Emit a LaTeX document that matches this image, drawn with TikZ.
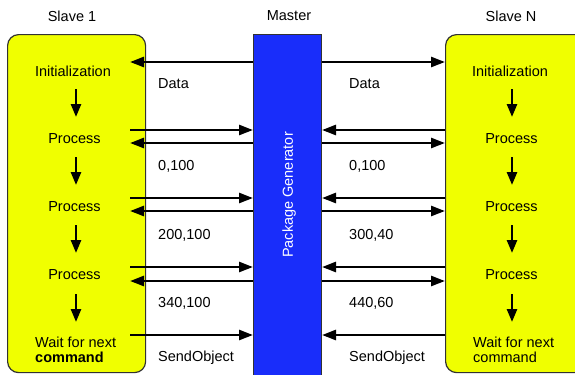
\documentclass[tikz,border=0pt]{standalone}
\usepackage{fontspec}
\setmainfont{Liberation Sans}
\usetikzlibrary{arrows.meta}
\definecolor{slaveyellow}{RGB}{240,255,0}
\definecolor{masterblue}{RGB}{25,45,250}
\definecolor{edgegray}{RGB}{50,50,50}
\tikzset{
  slavebox/.style={draw=edgegray, line width=1.2bp, fill=slaveyellow, rounded corners=11bp,
    anchor=north west, inner sep=0pt},
  masterbox/.style={draw=edgegray, line width=1bp, fill=masterblue, anchor=north west, inner sep=0pt},
  msg/.style={line width=2.6bp, -{Triangle[length=14bp,width=10bp]}},
  flow/.style={line width=2.6bp, -{Triangle[length=13bp,width=10bp]}},
  lbl/.style={anchor=west, inner sep=0pt},
  stepname/.style={inner sep=0pt},
  head/.style={inner sep=0pt}
}
\begin{document}
\begin{tikzpicture}[x=1bp, y=-1bp, font=\fontsize{14.5bp}{15bp}\selectfont]
\useasboundingbox (0,0) rectangle (575,374);
\clip (0,0) rectangle (575,374);

% headers
\node[head] (h1) at (72,16) {Slave 1};
\node[head] (hm) at (289,16) {Master};
\node[head] (hn) at (511,16) {Slave N};

% the three columns
\node[slavebox, minimum width=138bp, minimum height=338bp] (slave1) at (7,34) {};
\node[slavebox, minimum width=160bp, minimum height=338bp] (slaveN) at (445,34) {};
\node[masterbox, minimum width=68bp, minimum height=360bp] (master) at (253,34) {};
\node[text=white, rotate=90, inner sep=0pt] (pg) at (289,195) {Package Generator};

% slave 1 steps
\node[stepname] (a0) at (73,71) {Initialization};
\node[stepname] (a1) at (74.5,139) {Process};
\node[stepname] (a2) at (74.5,207) {Process};
\node[stepname] (a3) at (74.5,275) {Process};
\node[lbl, align=left] (a4) at (35,350) {Wait for next\\\textbf{command}};

% slave N steps
\node[stepname] (b0) at (510,71) {Initialization};
\node[stepname] (b1) at (511.5,139) {Process};
\node[stepname] (b2) at (511.5,207) {Process};
\node[stepname] (b3) at (511.5,275) {Process};
\node[lbl, align=left] (b4) at (473,350) {Wait for next\\command};

% step flow arrows
\coordinate (colA) at (76,0);
\coordinate (colB) at (512,0);
\foreach \p/\q in {a0/a1,a1/a2,a2/a3}
  \draw[flow, shorten <=18bp, shorten >=22bp] (\p -| colA) -- (\q -| colA);
\draw[flow] (76,294) -- (76,322);
\foreach \p/\q in {b0/b1,b1/b2,b2/b3}
  \draw[flow, shorten <=18bp, shorten >=22bp] (\p -| colB) -- (\q -| colB);
\draw[flow] (512,294) -- (512,322);

% message rows
\coordinate (inA) at (130,0);
\coordinate (d0) at (0,62);
\coordinate (u1) at (0,130); \coordinate (v1) at (0,143);
\coordinate (u2) at (0,198); \coordinate (v2) at (0,211);
\coordinate (u3) at (0,267); \coordinate (v3) at (0,281);
\coordinate (u4) at (0,335);

% data broadcast
\draw[msg] (master.west |- d0) -- (inA |- d0);
\draw[msg] (master.east |- d0) -- (slaveN.west |- d0);

% requests and replies
\foreach \k in {1,2,3}{
  \draw[msg] (inA |- u\k) -- (master.west |- u\k);
  \draw[msg] (master.west |- v\k) -- (inA |- v\k);
  \draw[msg] (slaveN.west |- u\k) -- (master.east |- u\k);
  \draw[msg] (master.east |- v\k) -- (slaveN.west |- v\k);
}
\draw[msg] (inA |- u4) -- (master.west |- u4);
\draw[msg] (slaveN.west |- u4) -- (master.east |- u4);

% message labels
\node[lbl] (la0) at (158,84) {Data};
\node[lbl] (la1) at (158,166) {0,100};
\node[lbl] (la2) at (158,235) {200,100};
\node[lbl] (la3) at (158,303) {340,100};
\node[lbl] (la4) at (158,358) {SendObject};
\node[lbl] (lb0) at (349,84) {Data};
\node[lbl] (lb1) at (349,166) {0,100};
\node[lbl] (lb2) at (349,235) {300,40};
\node[lbl] (lb3) at (349,303) {440,60};
\node[lbl] (lb4) at (349,358) {SendObject};
\end{tikzpicture}
\end{document}
